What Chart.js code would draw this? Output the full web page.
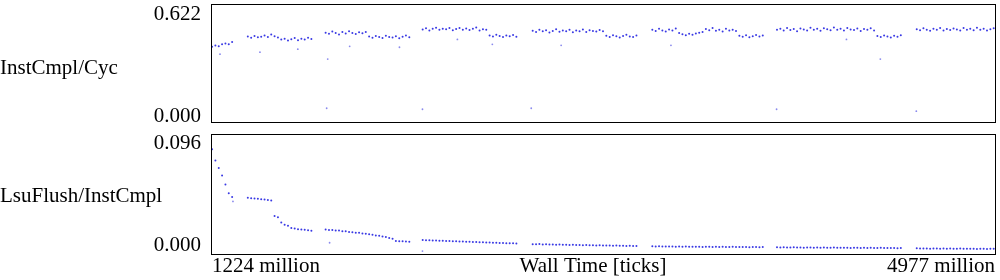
<!DOCTYPE html>
<html>
<head>
<meta charset="utf-8">
<script src="https://cdn.jsdelivr.net/npm/chart.js@4.4.1/dist/chart.umd.min.js"></script>
<style>
html, body { margin: 0; padding: 0; background: #fff; }
#wrap { position: relative; width: 1000px; height: 280px; }
#topBox { position: absolute; left: 0; top: 0; width: 1000px; height: 130px; }
#botBox { position: absolute; left: 0; top: 130px; width: 1000px; height: 150px; }
</style>
</head>
<body>
<div id="wrap">
  <div id="topBox"><canvas id="ipcChart"></canvas></div>
  <div id="botBox"><canvas id="flushChart"></canvas></div>
</div>
<script>
// wall time of each sample, in million ticks
const wallTime = [
  1229,1245,1261,1277,1293,1309,1325,
  1400,1416,1432,1448,1464,1480,1496,1512,1528,1544,1560,1576,1592,1608,1624,1640,1656,1672,1688,1704,
  1772,1788,1804,1820,1836,1852,1868,1884,1900,1916,1932,1948,1964,1980,1996,2012,2028,2044,2060,2076,2092,2108,2124,2140,2156,2172,
  2236,2252,2268,2284,2300,2316,2332,2348,2364,2380,2396,2412,2428,2444,2460,2476,2492,2508,2524,2540,2556,2572,2588,2604,2620,2636,2652,2668,2684,
  2762,2778,2794,2810,2826,2842,2858,2874,2890,2906,2922,2938,2954,2970,2986,3002,3018,3034,3050,3066,3082,3098,3114,3130,3146,3162,3178,3194,3210,3226,3242,3258,
  3334,3350,3366,3382,3398,3414,3430,3446,3462,3478,3494,3510,3526,3542,3558,3574,3590,3606,3622,3638,3654,3670,3686,3702,3718,3734,3750,3766,3782,3798,3814,3830,3846,3862,
  3930,3946,3962,3978,3994,4010,4026,4042,4058,4074,4090,4106,4122,4138,4154,4170,4186,4202,4218,4234,4250,4266,4282,4298,4314,4330,4346,4362,4378,4394,4410,4426,4442,4458,4474,4490,4506,4522,
  4598,4614,4630,4646,4662,4678,4694,4710,4726,4742,4758,4774,4790,4806,4822,4838,4854,4870,4886,4902,4918,4934,4950,4966
];

const instPerCyc = [
  0.398,0.405,0.401,0.411,0.416,0.412,0.424,
  0.452,0.446,0.455,0.448,0.451,0.458,0.449,0.462,0.453,0.447,0.436,0.441,0.431,0.438,0.444,0.433,0.440,0.437,0.446,0.439,
  0.472,0.466,0.478,0.470,0.463,0.475,0.468,0.480,0.471,0.465,0.474,0.469,0.476,0.452,0.446,0.455,0.449,0.444,0.456,0.450,0.447,0.453,0.443,0.451,0.457,0.448,
  0.489,0.495,0.484,0.492,0.498,0.487,0.493,0.490,0.496,0.485,0.491,0.497,0.488,0.494,0.486,0.492,0.499,0.483,0.490,0.487,0.458,0.452,0.461,0.455,0.449,0.457,0.453,0.460,0.451,
  0.482,0.476,0.488,0.479,0.485,0.473,0.481,0.490,0.477,0.484,0.479,0.487,0.474,0.483,0.480,0.489,0.476,0.485,0.481,0.478,0.486,0.480,0.456,0.450,0.459,0.453,0.447,0.455,0.461,0.452,0.449,0.457,
  0.487,0.481,0.492,0.484,0.478,0.489,0.483,0.494,0.470,0.464,0.459,0.466,0.461,0.468,0.472,0.475,0.491,0.485,0.496,0.482,0.488,0.478,0.493,0.484,0.487,0.481,0.456,0.451,0.459,0.448,0.454,0.460,0.452,0.457,
  0.488,0.493,0.483,0.497,0.486,0.491,0.480,0.494,0.489,0.484,0.498,0.487,0.492,0.482,0.495,0.490,0.485,0.499,0.488,0.493,0.483,0.496,0.489,0.486,0.494,0.481,0.491,0.487,0.495,0.484,0.455,0.450,0.458,0.452,0.447,0.456,0.451,0.459,
  0.490,0.485,0.495,0.488,0.482,0.493,0.487,0.497,0.484,0.491,0.486,0.494,0.489,0.483,0.496,0.488,0.492,0.485,0.498,0.487,0.493,0.484,0.490,0.495
];

const flushPerInst = [
  0.084,0.075,0.069,0.063,0.056,0.049,0.046,
  0.0455,0.0450,0.0448,0.0446,0.0443,0.0440,0.0436,0.0432,0.0310,0.0300,0.0258,0.0240,0.0232,0.0215,0.0210,0.0205,0.0203,0.0200,0.0196,0.0192,
  0.0203,0.0199,0.0199,0.0194,0.0194,0.0189,0.0188,0.0182,0.0181,0.0177,0.0176,0.0171,0.0169,0.0164,0.0161,0.0155,0.0153,0.0146,0.0143,0.0135,0.0128,0.0112,0.0109,0.0109,0.0107,0.0106,
  0.0119,0.0117,0.0117,0.0115,0.0115,0.0113,0.0113,0.0111,0.0111,0.0109,0.0109,0.0107,0.0107,0.0105,0.0106,0.0104,0.0103,0.0102,0.0101,0.0100,0.0099,0.0098,0.0097,0.0096,0.0095,0.0094,0.0094,0.0093,0.0092,
  0.0086,0.0085,0.0087,0.0084,0.0085,0.0083,0.0084,0.0082,0.0083,0.0081,0.0082,0.0080,0.0081,0.0079,0.0080,0.0078,0.0079,0.0077,0.0078,0.0076,0.0077,0.0076,0.0075,0.0076,0.0074,0.0075,0.0073,0.0074,0.0072,0.0073,0.0072,0.0071,
  0.0069,0.0068,0.0069,0.0067,0.0068,0.0067,0.0068,0.0066,0.0067,0.0066,0.0067,0.0065,0.0066,0.0065,0.0066,0.0064,0.0065,0.0066,0.0064,0.0065,0.0064,0.0065,0.0063,0.0064,0.0065,0.0063,0.0064,0.0063,0.0064,0.0062,0.0063,0.0064,0.0062,0.0063,
  0.0061,0.0060,0.0061,0.0059,0.0060,0.0061,0.0059,0.0060,0.0058,0.0059,0.0060,0.0058,0.0059,0.0058,0.0059,0.0057,0.0058,0.0059,0.0057,0.0058,0.0057,0.0058,0.0056,0.0057,0.0058,0.0056,0.0057,0.0056,0.0057,0.0055,0.0056,0.0057,0.0055,0.0056,0.0055,0.0056,0.0054,0.0055,
  0.0053,0.0052,0.0051,0.0052,0.0050,0.0051,0.0052,0.0050,0.0051,0.0050,0.0051,0.0049,0.0050,0.0051,0.0049,0.0050,0.0049,0.0050,0.0048,0.0049,0.0050,0.0048,0.0049,0.0050
];

// stray samples away from the main bands
const strayIpcTime = [1267,1458,1639,1777,1782,1887,2125,2235,2402,2569,2755,2898,3423,3928,4262,4424,4596];
const strayIpc = [0.360,0.370,0.386,0.077,0.334,0.401,0.396,0.072,0.437,0.411,0.077,0.406,0.406,0.072,0.437,0.334,0.062];
const strayFlushTime = [1329,1791,2235];
const strayFlush = [0.0425,0.0097,0.0031];

const timeRange = [1224, 4977];
const ipcTicks = ['0.000', '0.622'];
const flushTicks = ['0.000', '0.096'];
const xTickLabels = ['1224 million', '4977 million'];
const xTitle = 'Wall Time [ticks]';

const dotColor = 'rgba(35,35,225,0.9)';
const font = '21px "Liberation Serif"';

const toPoints = (xs, ys) => xs.map((x, i) => ({ x: x, y: ys[i] }));

// frame + labels drawn next to the plot area
const panelText = {
  id: 'panelText',
  afterDraw(chart, args, o) {
    const ctx = chart.ctx, a = chart.chartArea, y = chart.scales.y;
    ctx.save();
    ctx.strokeStyle = '#000';
    ctx.lineWidth = 1;
    ctx.strokeRect(a.left + 0.5, a.top + 0.5, a.right - a.left - 1, a.bottom - a.top - 1);
    ctx.fillStyle = '#000';
    ctx.font = font;
    ctx.textBaseline = 'alphabetic';
    ctx.textAlign = 'right';
    ctx.fillText(o.ticks[1], 201, y.getPixelForValue(y.max) + o.topOff);
    ctx.fillText(o.ticks[0], 201, y.getPixelForValue(y.min) - o.botOff);
    ctx.textAlign = 'left';
    ctx.fillText(o.title, 0, o.titleBase);
    if (o.xLabels) {
      const x = chart.scales.x;
      const base = a.bottom + 17;
      ctx.fillText(o.xLabels[0], x.getPixelForValue(x.min) + 1, base);
      ctx.textAlign = 'center';
      ctx.fillText(xTitle, 593, base);
      ctx.textAlign = 'right';
      ctx.fillText(o.xLabels[1], x.getPixelForValue(x.max) - 1, base);
    }
    ctx.restore();
  }
};

function makePanel(id, main, stray, yMax, pad, text) {
  return new Chart(document.getElementById(id), {
    type: 'scatter',
    data: {
      datasets: [
        { data: main, pointRadius: 1, pointBorderWidth: 0, backgroundColor: dotColor, borderColor: dotColor },
        { data: stray, pointRadius: 0.9, pointBorderWidth: 0, backgroundColor: 'rgba(60,60,225,0.6)', borderColor: 'rgba(60,60,225,0.6)' }
      ]
    },
    options: {
      responsive: true,
      maintainAspectRatio: false,
      animation: false,
      layout: { padding: pad },
      scales: {
        x: { type: 'linear', min: timeRange[0], max: timeRange[1], display: false },
        y: { min: 0, max: yMax, display: false }
      },
      plugins: { legend: { display: false }, tooltip: { enabled: false }, panelText: text }
    },
    plugins: [panelText]
  });
}

makePanel('ipcChart',
  toPoints(wallTime, instPerCyc), toPoints(strayIpcTime, strayIpc), 0.622,
  { left: 211, right: 1, top: 1, bottom: 7 },
  { ticks: ipcTicks, title: 'InstCmpl/Cyc', titleBase: 74, topOff: 16, botOff: 1 });

makePanel('flushChart',
  toPoints(wallTime, flushPerInst), toPoints(strayFlushTime, strayFlush), 0.096,
  { left: 211, right: 1, top: 2, bottom: 25 },
  { ticks: flushTicks, title: 'LsuFlush/InstCmpl', titleBase: 72, topOff: 15, botOff: 4, xLabels: xTickLabels });
</script>
</body>
</html>
